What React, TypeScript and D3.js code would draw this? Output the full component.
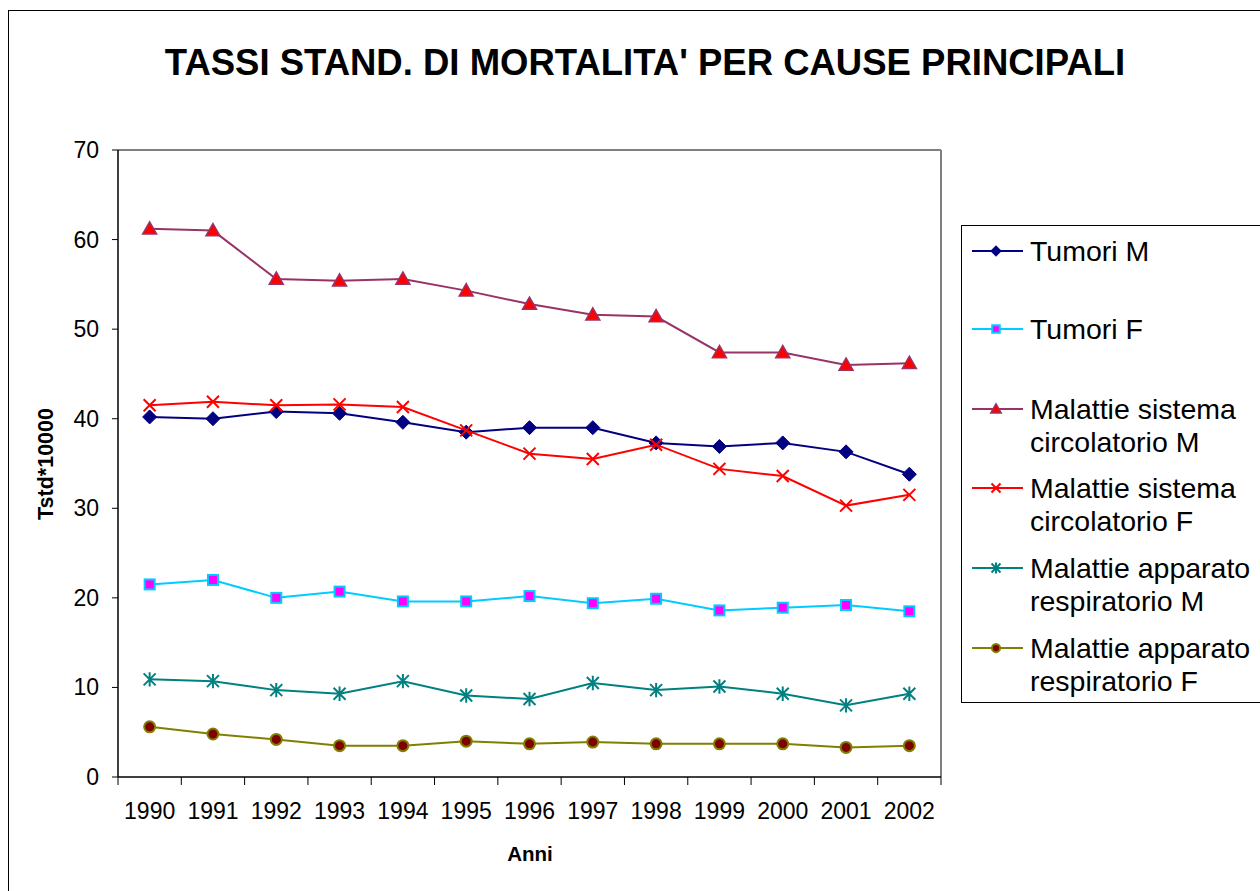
import React from 'react';
import * as d3 from 'd3';

const years = ['1990', '1991', '1992', '1993', '1994', '1995', '1996', '1997', '1998', '1999', '2000', '2001', '2002'];

const tumoriM = [40.2, 40.0, 40.8, 40.6, 39.6, 38.5, 39.0, 39.0, 37.3, 36.9, 37.3, 36.3, 33.8];
const tumoriF = [21.5, 22.0, 20.0, 20.7, 19.6, 19.6, 20.2, 19.4, 19.9, 18.6, 18.9, 19.2, 18.5];
const circM = [61.2, 61.0, 55.6, 55.4, 55.6, 54.3, 52.8, 51.6, 51.4, 47.4, 47.4, 46.0, 46.2];
const circF = [41.5, 41.9, 41.5, 41.6, 41.3, 38.7, 36.1, 35.5, 37.1, 34.4, 33.6, 30.3, 31.5];
const respM = [10.9, 10.7, 9.7, 9.3, 10.7, 9.1, 8.7, 10.5, 9.7, 10.1, 9.3, 8.0, 9.3];
const respF = [5.6, 4.8, 4.2, 3.5, 3.5, 4.0, 3.7, 3.9, 3.7, 3.7, 3.7, 3.3, 3.5];

const yTicks = [0, 10, 20, 30, 40, 50, 60, 70];

const series = [
  { name: ['Tumori M'], values: tumoriM, line: '#000080', fill: '#000080', stroke: '#000080', marker: 'diamond' },
  { name: ['Tumori F'], values: tumoriF, line: '#00CCFF', fill: '#FF00FF', stroke: '#00CCFF', marker: 'square' },
  { name: ['Malattie sistema', 'circolatorio M'], values: circM, line: '#993366', fill: '#FF0000', stroke: '#993366', marker: 'triangle' },
  { name: ['Malattie sistema', 'circolatorio F'], values: circF, line: '#FF0000', fill: 'none', stroke: '#FF0000', marker: 'x' },
  { name: ['Malattie apparato', 'respiratorio M'], values: respM, line: '#008080', fill: 'none', stroke: '#008080', marker: 'star' },
  { name: ['Malattie apparato', 'respiratorio F'], values: respF, line: '#808000', fill: '#800000', stroke: '#808000', marker: 'circle' },
];

const font = '"Liberation Sans", Arial, sans-serif';

function Marker({ type, x, y, fill, stroke, big }: any) {
  const k = big ? 1 : 0.75;
  if (type === 'diamond') {
    const s = 7 * k;
    return <path d={`M${x},${y - s}L${x + s},${y}L${x},${y + s}L${x - s},${y}Z`} fill={fill} stroke={stroke} strokeWidth={1} />;
  }
  if (type === 'square') {
    const s = 5 * k;
    return <rect x={x - s} y={y - s} width={2 * s} height={2 * s} fill={fill} stroke={stroke} strokeWidth={2} />;
  }
  if (type === 'triangle') {
    const s = 7 * k;
    return <path d={`M${x},${y - s}L${x + s},${y + s * 0.75}L${x - s},${y + s * 0.75}Z`} fill={fill} stroke={stroke} strokeWidth={1.5} />;
  }
  if (type === 'x') {
    const s = 6 * k;
    return <path d={`M${x - s},${y - s}L${x + s},${y + s}M${x - s},${y + s}L${x + s},${y - s}`} stroke={stroke} strokeWidth={2} fill="none" />;
  }
  if (type === 'star') {
    const s = 6 * k;
    return <path d={`M${x - s},${y - s}L${x + s},${y + s}M${x - s},${y + s}L${x + s},${y - s}M${x},${y - s * 1.2}L${x},${y + s * 1.2}`} stroke={stroke} strokeWidth={2} fill="none" />;
  }
  return <circle cx={x} cy={y} r={5.5 * k} fill={fill} stroke={stroke} strokeWidth={2} />;
}

export default function App() {
  const W = 1260, H = 891;
  const left = 118, right = 941, top = 150, bottom = 777;
  const x = d3.scaleBand<string>().domain(years).range([left, right]);
  const y = d3.scaleLinear().domain([0, 70]).range([bottom, top]);
  const line = d3.line<number>().x((_, i) => (x(years[i]) as number) + x.bandwidth() / 2).y(d => y(d));

  const legendX = 961, legendTop = 225;
  const itemY = [251, 329, 409, 488, 568, 648];

  return (
    <svg width={W} height={H} style={{ position: 'absolute', left: 0, top: 0 }}>
      <rect x={0} y={0} width={W} height={H} fill="#fff" />
      <rect x={8.5} y={10.5} width={W + 20} height={H + 20} fill="none" stroke="#000" strokeWidth={1} />
      <text x={645} y={75} textAnchor="middle" fontFamily={font} fontWeight="bold" fontSize={36.5}>
        TASSI STAND. DI MORTALITA' PER CAUSE PRINCIPALI
      </text>

      {/* plot frame */}
      <line x1={left} x2={right} y1={top} y2={top} stroke="#808080" strokeWidth={2} />
      <line x1={right} x2={right} y1={top} y2={bottom} stroke="#808080" strokeWidth={2} />
      <line x1={left} x2={left} y1={top} y2={bottom} stroke="#000" strokeWidth={1.5} />
      <line x1={left} x2={right} y1={bottom} y2={bottom} stroke="#000" strokeWidth={1.5} />

      {yTicks.map(t => (
        <g key={t}>
          <line x1={left - 6} x2={left} y1={y(t)} y2={y(t)} stroke="#000" />
          <text x={99} y={y(t)} dy="0.35em" textAnchor="end" fontFamily={font} fontSize={23}>{t}</text>
        </g>
      ))}
      {years.map((yr, i) => (
        <g key={yr}>
          <line x1={x(yr) as number} x2={x(yr) as number} y1={bottom} y2={bottom + 8} stroke="#000" />
          <text x={(x(yr) as number) + x.bandwidth() / 2} y={819} textAnchor="middle" fontFamily={font} fontSize={23}>{yr}</text>
        </g>
      ))}
      <line x1={right} x2={right} y1={bottom} y2={bottom + 8} stroke="#000" />

      <text x={530} y={861} textAnchor="middle" fontFamily={font} fontWeight="bold" fontSize={20.5}>Anni</text>
      <text transform={`translate(53,${464}) rotate(-90)`} textAnchor="middle" fontFamily={font} fontWeight="bold" fontSize={21.5}>Tstd*10000</text>

      {series.map(s => (
        <g key={s.name.join(' ')}>
          <path d={line(s.values) as string} fill="none" stroke={s.line} strokeWidth={2} />
          {s.values.map((v, i) => (
            <Marker key={i} type={s.marker} x={(x(years[i]) as number) + x.bandwidth() / 2} y={y(v)} fill={s.fill} stroke={s.stroke} big />
          ))}
        </g>
      ))}

      {/* legend */}
      <rect x={legendX + 0.5} y={legendTop + 0.5} width={W} height={477} fill="#fff" stroke="#000" strokeWidth={1} />
      {series.map((s, i) => (
        <g key={i}>
          <line x1={972} x2={1023} y1={itemY[i]} y2={itemY[i]} stroke={s.line} strokeWidth={2} />
          <Marker type={s.marker} x={996} y={itemY[i]} fill={s.fill} stroke={s.stroke} big={false} />
          {s.name.map((n, j) => (
            <text key={j} x={1030} y={itemY[i] + j * 33} dy="0.35em" fontFamily={font} fontSize={28.5}>{n}</text>
          ))}
        </g>
      ))}
    </svg>
  );
}
